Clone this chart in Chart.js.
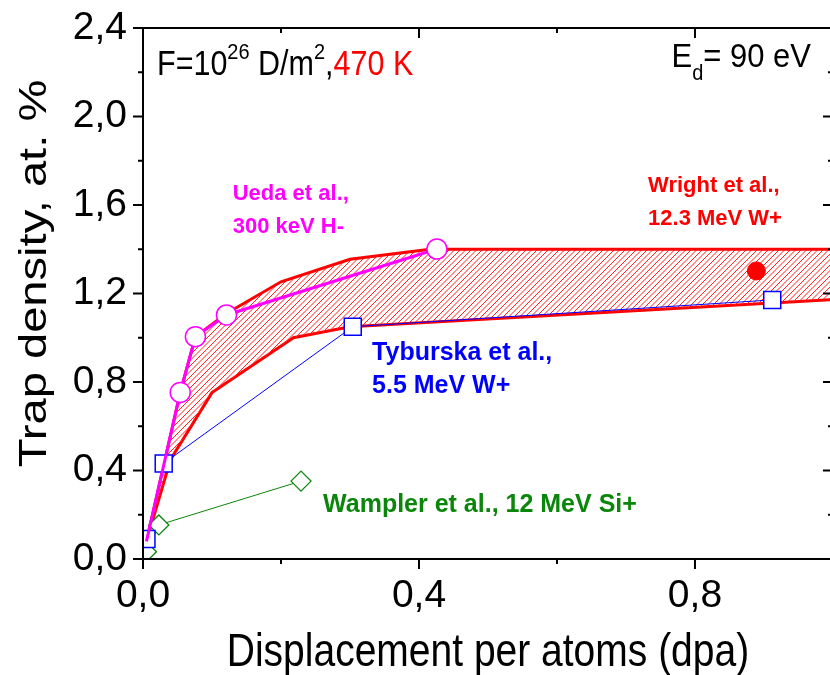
<!DOCTYPE html>
<html><head><meta charset="utf-8">
<script src="https://cdn.jsdelivr.net/npm/chart.js@4/dist/chart.umd.min.js"></script>
<style>html,body{margin:0;padding:0;background:#fff}#wrap{width:830px;height:675px;position:relative}</style>
</head><body><div id="wrap"><canvas id="c" width="830" height="675"></canvas></div>
<script>
// ---- data (dpa, at.%) ----
const uedaX = [0.005, 0.054, 0.076, 0.121, 0.426];
const uedaY = [0.08, 0.753, 1.005, 1.103, 1.401];
const tyburskaX = [0.005, 0.030, 0.304, 0.912];
const tyburskaY = [0.09, 0.432, 1.05, 1.171];
const wamplerX = [0.005, 0.023, 0.229];
const wamplerY = [0.033, 0.154, 0.352];
const wrightX = [0.889];
const wrightY = [1.302];
const bandUpperX = [0.005, 0.054, 0.076, 0.121, 0.2, 0.3, 0.416, 1.0];
const bandUpperY = [0.08, 0.753, 1.005, 1.11, 1.253, 1.355, 1.40, 1.40];
const bandLowerX = [0.005, 0.04, 0.1, 0.218, 0.3, 1.0];
const bandLowerY = [0.08, 0.45, 0.752, 1.0, 1.05, 1.172];
const xMajorTicks = [0, 0.4, 0.8, 1.2];
const xMinorTicks = [0.2, 0.6, 1.0];
const yMajorTicks = [0, 0.4, 0.8, 1.2, 1.6, 2.0, 2.4];
const yMinorTicks = [0.2, 0.6, 1.0, 1.4, 1.8, 2.2];
const yTitle = 'Trap density, at. %';
const xTitle = 'Displacement per atoms (dpa)';

const FONT = "'Liberation Sans', Arial, Helvetica, sans-serif";
const pts = (xs, ys) => xs.map((x, i) => ({x, y: ys[i]}));
const fmt = v => Number(v).toFixed(1).replace('.', ',');

const annotations = [
  {x: 0.0203, y: 2.187, sy: 1.12, parts: [
    {t: 'F=10', s: 30.5}, {t: '26', s: 20, dy: -14}, {t: ' D/m', s: 30.5},
    {t: '2', s: 20, dy: -14}, {t: ',', s: 30.5}, {t: '470 K', s: 30.5, c: '#ff0000'}]},
  {x: 0.766, y: 2.225, sy: 1.08, parts: [{t: 'E', s: 31}, {t: 'd', s: 20, dy: 12}, {t: '= 90 eV', s: 31}]},
  {x: 0.130, y: 1.623, parts: [{t: 'Ueda et al.,', s: 22, w: 'bold', c: '#ff00ff'}]},
  {x: 0.130, y: 1.473, parts: [{t: '300 keV H-', s: 22, w: 'bold', c: '#ff00ff'}]},
  {x: 0.732, y: 1.660, parts: [{t: 'Wright et al.,', s: 22, w: 'bold', c: '#ff0000'}]},
  {x: 0.732, y: 1.510, parts: [{t: '12.3 MeV W+', s: 22, w: 'bold', c: '#ff0000'}]},
  {x: 0.332, y: 0.899, parts: [{t: 'Tyburska et al.,', s: 25, w: 'bold', c: '#0000ff'}]},
  {x: 0.332, y: 0.749, parts: [{t: '5.5 MeV W+', s: 25, w: 'bold', c: '#0000ff'}]},
  {x: 0.261, y: 0.214, parts: [{t: 'Wampler et al., 12 MeV Si+', s: 25, w: 'bold', c: '#0a860a'}]}
];

// hatched band between dataset 4 (upper) and dataset 5 (lower), built from the library's point elements
const hatchPlugin = {
  id: 'hatch',
  beforeDatasetDraw(chart, args) {
    if (args.index !== 4) return;
    const {ctx, chartArea: a} = chart;
    const up = chart.getDatasetMeta(4).data, lo = chart.getDatasetMeta(5).data;
    ctx.save();
    ctx.beginPath();
    ctx.rect(a.left, a.top, a.right - a.left, a.bottom - a.top);
    ctx.clip();
    ctx.beginPath();
    up.forEach((p, i) => i ? ctx.lineTo(p.x, p.y) : ctx.moveTo(p.x, p.y));
    for (let i = lo.length - 1; i >= 0; i--) ctx.lineTo(lo[i].x, lo[i].y);
    ctx.closePath();
    ctx.clip();
    ctx.strokeStyle = '#ff2020';
    ctx.lineWidth = 1;
    ctx.beginPath();
    const H = a.bottom - a.top;
    for (let s = a.left - H; s < a.right + 10; s += 5.5) {
      ctx.moveTo(s, a.bottom); ctx.lineTo(s + H, a.top);
    }
    ctx.stroke();
    ctx.restore();
  }
};

const framePlugin = {
  id: 'frame',
  afterDatasetsDraw(chart) {
    const {ctx, chartArea: a, scales: {x, y}} = chart;
    const xr = x.getPixelForValue(1.0);
    ctx.save();
    ctx.strokeStyle = '#000'; ctx.lineWidth = 2; ctx.lineCap = 'butt';
    ctx.beginPath();
    ctx.moveTo(a.left, a.top - 1); ctx.lineTo(a.left, a.bottom + 1);
    ctx.moveTo(a.left - 1, a.bottom); ctx.lineTo(xr + 1, a.bottom);
    ctx.moveTo(a.left - 1, a.top); ctx.lineTo(xr + 1, a.top);
    ctx.moveTo(xr, a.top); ctx.lineTo(xr, a.bottom);
    const yt = (v, len) => {
      const p = y.getPixelForValue(v);
      ctx.moveTo(a.left - len, p); ctx.lineTo(a.left, p);
      ctx.moveTo(xr - len, p); ctx.lineTo(xr, p);
    };
    const xt = (v, len) => {
      const p = x.getPixelForValue(v);
      ctx.moveTo(p, a.bottom); ctx.lineTo(p, a.bottom + len);
      ctx.moveTo(p, a.top); ctx.lineTo(p, a.top + len);
    };
    yMajorTicks.forEach(v => yt(v, 10));
    yMinorTicks.forEach(v => yt(v, 5));
    xMajorTicks.forEach(v => xt(v, 10));
    xMinorTicks.forEach(v => xt(v, 5));
    ctx.stroke();
    ctx.restore();
  },
  afterDraw(chart) {
    const {ctx, chartArea: a, scales: {x, y}} = chart;
    ctx.save();
    ctx.textBaseline = 'alphabetic'; ctx.textAlign = 'left';
    annotations.forEach(an => {
      let px = x.getPixelForValue(an.x);
      const py = y.getPixelForValue(an.y);
      const sy = an.sy || 1;
      an.parts.forEach(p => {
        ctx.font = (p.w || 'normal') + ' ' + p.s + 'px ' + FONT;
        ctx.fillStyle = p.c || '#000';
        ctx.save();
        ctx.translate(px, py + (p.dy || 0) * sy);
        ctx.scale(1, sy);
        ctx.fillText(p.t, 0, 0);
        ctx.restore();
        px += ctx.measureText(p.t).width;
      });
    });
    // axis titles (text stretched like the original)
    ctx.fillStyle = '#000';
    ctx.textAlign = 'center';
    ctx.textBaseline = 'alphabetic';
    ctx.font = '39px ' + FONT;
    ctx.save();
    ctx.translate((a.left + x.getPixelForValue(1.0)) / 2, 666);
    ctx.scale(1, 1.2);
    ctx.fillText(xTitle, 0, 0);
    ctx.restore();
    ctx.save();
    ctx.translate(46, (a.top + a.bottom) / 2 - 20);
    ctx.rotate(-Math.PI / 2);
    ctx.scale(1.24, 1);
    ctx.font = '38px ' + FONT;
    ctx.fillText(yTitle, 0, 0);
    ctx.restore();
    ctx.restore();
  }
};

new Chart(document.getElementById('c'), {
  type: 'line',
  data: {
    datasets: [
      {label: 'Ueda et al., 300 keV H-', data: pts(uedaX, uedaY), borderColor: '#ff00ff', borderWidth: 3,
       pointStyle: 'circle', pointRadius: c => c.dataIndex === 0 ? 0 : 10, pointBackgroundColor: '#fff',
       pointBorderColor: '#ff00ff', pointBorderWidth: 1.5, fill: false, tension: 0},
      {label: 'Tyburska et al., 5.5 MeV W+', data: pts(tyburskaX, tyburskaY), borderColor: '#0000ff', borderWidth: 1,
       pointStyle: 'rect', pointRadius: 12, pointBackgroundColor: '#fff', pointBorderColor: '#0000ff',
       pointBorderWidth: 1.5, fill: false, tension: 0},
      {label: 'Wampler et al., 12 MeV Si+', data: pts(wamplerX, wamplerY), borderColor: '#0a860a', borderWidth: 1,
       pointStyle: 'rectRot', pointRadius: 10, pointBackgroundColor: '#fff', pointBorderColor: '#0a860a',
       pointBorderWidth: 1.3, fill: false, tension: 0},
      {label: 'Wright et al., 12.3 MeV W+', data: pts(wrightX, wrightY), showLine: false,
       pointStyle: 'circle', pointRadius: 9, pointBackgroundColor: '#ff0000', pointBorderColor: '#ff0000',
       pointBorderWidth: 1, fill: false},
      {label: 'band upper', data: pts(bandUpperX, bandUpperY), borderColor: '#ff0000', borderWidth: 3,
       pointRadius: 0, fill: false, tension: 0},
      {label: 'band lower', data: pts(bandLowerX, bandLowerY), borderColor: '#ff0000', borderWidth: 3,
       pointRadius: 0, fill: false, tension: 0}
    ]
  },
  options: {
    responsive: false,
    animation: false,
    events: [],
    layout: {autoPadding: false, padding: {top: 28, right: 0, left: 0, bottom: 0}},
    plugins: {legend: {display: false}, tooltip: {enabled: false}},
    scales: {
      x: {
        type: 'linear', min: 0, max: 0.9957, bounds: 'data',
        grid: {display: false, drawTicks: false}, border: {display: false},
        ticks: {stepSize: 0.4, includeBounds: false, padding: 14, color: '#000',
                font: {family: FONT, size: 39}, callback: v => fmt(v), maxRotation: 0},
        title: {display: false},
        afterFit: s => { s.height = 116; s.paddingLeft = 0; s.paddingRight = 0; }
      },
      y: {
        type: 'linear', min: 0, max: 2.4, bounds: 'data',
        grid: {display: false, drawTicks: false}, border: {display: false},
        ticks: {stepSize: 0.4, padding: 16, color: '#000', font: {family: FONT, size: 39}, callback: v => fmt(v)},
        title: {display: false},
        afterFit: s => { s.width = 143; s.paddingTop = 0; s.paddingBottom = 0; }
      }
    }
  },
  plugins: [hatchPlugin, framePlugin]
});
</script></body></html>
